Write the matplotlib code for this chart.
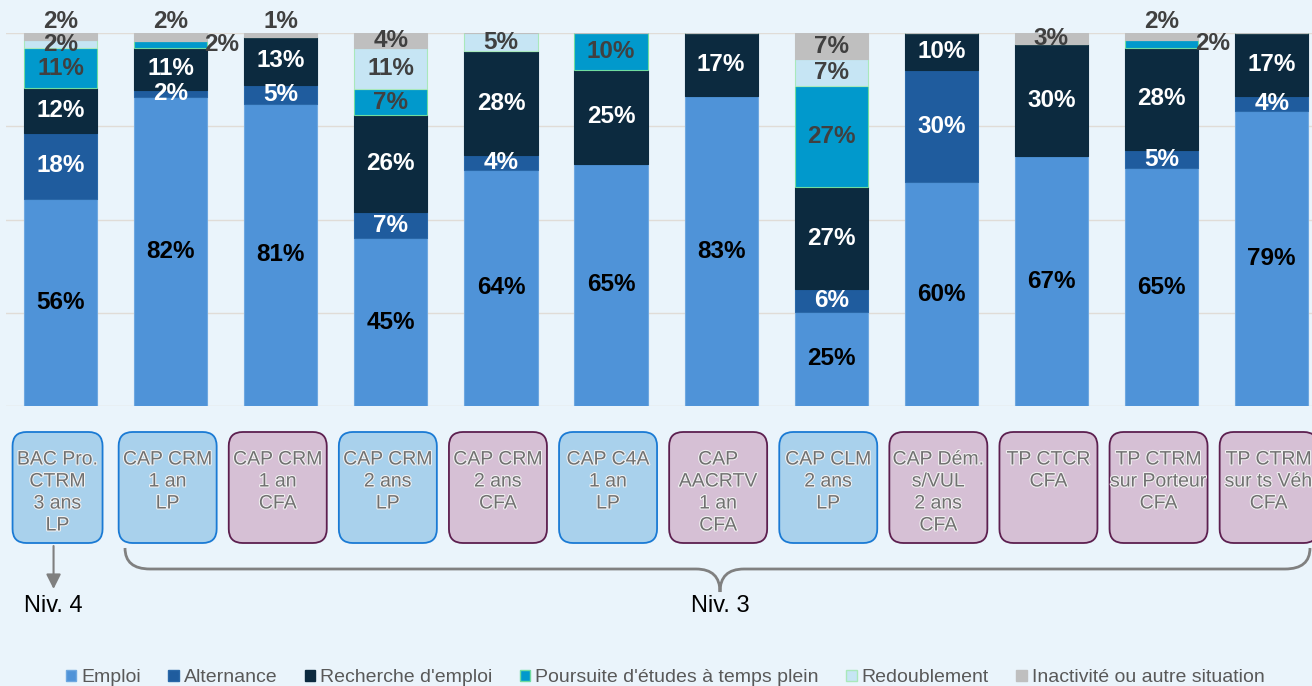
import numpy as np
import matplotlib.pyplot as plt
from matplotlib.patches import FancyBboxPatch, Patch, PathPatch
from matplotlib.path import Path
import matplotlib.patheffects as pe

plt.rcParams['font.family'] = ['Liberation Sans', 'DejaVu Sans']

# ---- donnees ----
formations = ["BAC Pro.\nCTRM\n3 ans\nLP", "CAP CRM\n1 an\nLP", "CAP CRM\n1 an\nCFA",
              "CAP CRM\n2 ans\nLP", "CAP CRM\n2 ans\nCFA", "CAP C4A\n1 an\nLP",
              "CAP\nAACRTV\n1 an\nCFA", "CAP CLM\n2 ans\nLP", "CAP Dém.\ns/VUL\n2 ans\nCFA",
              "TP CTCR\nCFA", "TP CTRM\nsur Porteur\nCFA", "TP CTRM\nsur ts Véh\nCFA"]
lieu = ["LP", "LP", "CFA", "LP", "CFA", "LP", "CFA", "LP", "CFA", "CFA", "CFA", "CFA"]

emploi = [56, 82, 81, 45, 64, 65, 83, 25, 60, 67, 65, 79]
alternance = [18, 2, 5, 7, 4, 0, 0, 6, 30, 0, 5, 4]
recherche = [12, 11, 13, 26, 28, 25, 17, 27, 10, 30, 28, 17]
poursuite = [11, 2, 0, 7, 0, 10, 0, 27, 0, 0, 2, 0]
redoublement = [2, 0, 0, 11, 5, 0, 0, 7, 0, 0, 0, 0]
inactivite = [2, 2, 1, 4, 0, 0, 0, 7, 0, 3, 2, 0]

series = ["Emploi", "Alternance", "Recherche d'emploi", "Poursuite d'études à temps plein",
          "Redoublement", "Inactivité ou autre situation"]
valeurs = [emploi, alternance, recherche, poursuite, redoublement, inactivite]

couleurs = ['#4f93d8', '#1f5c9e', '#0c2a3f', '#0199cc', '#c6e5f4', '#bfbfbf']
bords = ['#6fa8e0', '#2a68a8', '#0c2a3f', '#6fdca0', '#a9e8bb', '#bfbfbf']
txt_col = ['black', 'white', 'white', '#404040', '#404040', '#404040']

fond = '#eaf4fb'

# ---- figure ----
fig = plt.figure(figsize=(13.12, 6.86), dpi=100, facecolor=fond)
W, H = 1312, 686
ax = fig.add_axes([5.5 / W, (H - 406) / H, 1321.2 / W, 373 / H])
ax.set_facecolor('none')

n = len(formations)
x = np.arange(n)
data = np.array(valeurs, dtype=float)
tot = data.sum(axis=0)
norm = data / tot * 100
larg = 0.665

bas = np.zeros(n)
for k in range(len(series)):
    ax.bar(x, norm[k], larg, bottom=bas, color=couleurs[k], edgecolor=bords[k],
           linewidth=0.8, zorder=3, label=series[k])
    for i in range(n):
        v = data[k, i]
        if v == 0:
            continue
        yc = bas[i] + norm[k, i] / 2
        xc = x[i]
        ha = 'center'
        if k == 5 and v <= 2:
            yc = 103
        elif k == 3 and v <= 2:
            xc = x[i] + larg / 2 - 0.03
            ha = 'left'
        ax.text(xc, yc, f"{int(v)}%", ha=ha, va='center', fontsize=17.5,
                fontweight='bold', color=txt_col[k], zorder=5, clip_on=False)
    bas += norm[k]

ax.set_xlim(-0.5, n - 0.5)
ax.set_ylim(0, 100)
for g in [0, 25, 50, 75, 100]:
    ax.axhline(g, color='#e0dcd7', lw=1, zorder=1)
for s in ax.spines.values():
    s.set_visible(False)
ax.set_xticks([])
ax.set_yticks([])

# ---- boites des formations (calque en pixels) ----
ov = fig.add_axes([0, 0, 1, 1])
ov.set_facecolor('none')
ov.set_xlim(0, W)
ov.set_ylim(H, 0)
ov.axis('off')

for i in range(n):
    cx = ax.transData.transform((x[i], 0))[0] - 3
    bw = 90 if i == 0 else 98
    if lieu[i] == "LP":
        fc, ec = '#a9d1ec', '#1a7ad4'
    else:
        fc, ec = '#d6c0d5', '#5c1f4f'
    ov.add_patch(FancyBboxPatch((cx - bw / 2, 432), bw, 111,
                                boxstyle="round,pad=0,rounding_size=14",
                                fc=fc, ec=ec, lw=1.3))
    for j, ligne in enumerate(formations[i].split("\n")):
        ov.text(cx, 460 + 22 * j, ligne, ha='center', va='center', fontsize=14,
                color='#707070',
                path_effects=[pe.withStroke(linewidth=1.5, foreground='#f2f2f2')])

# fleche niveau 4
x4 = ax.transData.transform((x[0], 0))[0] - 7
ov.annotate("", xy=(x4, 589), xytext=(x4, 546),
            arrowprops=dict(arrowstyle='-|>', color='#7f7f7f', lw=1.5,
                            mutation_scale=22, shrinkA=0, shrinkB=0))
ov.text(x4, 606, "Niv. 4", ha='center', va='center', fontsize=17, color='black')

# accolade niveau 3
xl, xm, xr = 125, 720, 1310
yh, ytip = 569, 592
verts = [(xl, 548), (xl, yh), (xl + 25, yh),
         (xm - 24, yh), (xm, yh), (xm, ytip),
         (xm, yh), (xm + 24, yh),
         (xr - 25, yh), (xr, yh), (xr, 548)]
codes = [Path.MOVETO, Path.CURVE3, Path.CURVE3,
         Path.LINETO, Path.CURVE3, Path.CURVE3,
         Path.CURVE3, Path.CURVE3,
         Path.LINETO, Path.CURVE3, Path.CURVE3]
ov.add_patch(PathPatch(Path(verts, codes), fc='none', ec='#808080', lw=2))
ov.text(xm, 606, "Niv. 3", ha='center', va='center', fontsize=17, color='black')

# ---- legende ----
poignees = [Patch(facecolor=couleurs[k], edgecolor=bords[k], label=series[k])
            for k in range(len(series))]
fig.legend(handles=poignees, loc='center', bbox_to_anchor=(665 / W, 8 / H), ncol=6,
           frameon=False, fontsize=14, labelcolor='#595959', handlelength=0.55,
           handleheight=0.55, handletextpad=0.25, columnspacing=1.4)

fig.savefig("out.png", dpi=100, facecolor=fond)
